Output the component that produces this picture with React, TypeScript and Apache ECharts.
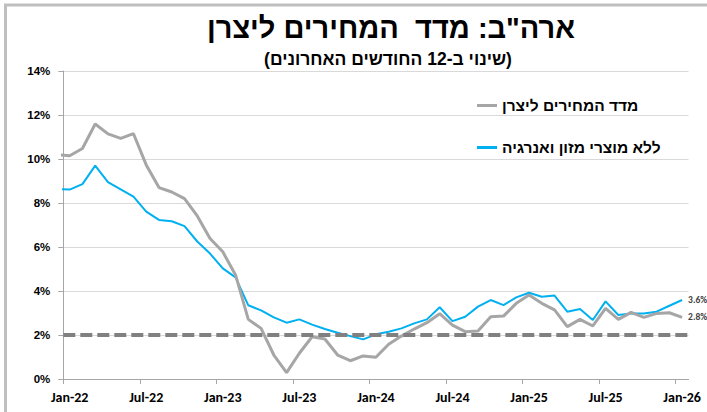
import React, { useEffect, useRef } from "react";
import * as echarts from "echarts";

const MONTHS = [
  "Dec-21",
  "Jan-22", "Feb-22", "Mar-22", "Apr-22", "May-22", "Jun-22", "Jul-22", "Aug-22", "Sep-22", "Oct-22", "Nov-22", "Dec-22",
  "Jan-23", "Feb-23", "Mar-23", "Apr-23", "May-23", "Jun-23", "Jul-23", "Aug-23", "Sep-23", "Oct-23", "Nov-23", "Dec-23",
  "Jan-24", "Feb-24", "Mar-24", "Apr-24", "May-24", "Jun-24", "Jul-24", "Aug-24", "Sep-24", "Oct-24", "Nov-24", "Dec-24",
  "Jan-25", "Feb-25", "Mar-25", "Apr-25", "May-25", "Jun-25", "Jul-25", "Aug-25", "Sep-25", "Oct-25", "Nov-25", "Dec-25",
  "Jan-26",
];

const PPI = [
  10.2,
  10.15, 10.48, 11.59, 11.14, 10.94, 11.15, 9.73, 8.7, 8.5, 8.2, 7.41, 6.39,
  5.78, 4.73, 2.71, 2.3, 1.09, 0.29, 1.17, 1.92, 1.82, 1.09, 0.83, 1.05,
  0.99, 1.58, 1.95, 2.27, 2.56, 2.97, 2.45, 2.15, 2.18, 2.83, 2.86, 3.44,
  3.82, 3.44, 3.14, 2.38, 2.71, 2.41, 3.21, 2.71, 3.03, 2.8, 2.98, 3.01,
  2.8,
];

const CORE = [
  8.64,
  8.61, 8.86, 9.7, 8.95, 8.62, 8.29, 7.61, 7.23, 7.17, 6.95, 6.25, 5.7,
  5.03, 4.62, 3.35, 3.12, 2.8, 2.56, 2.71, 2.47, 2.27, 2.1, 1.95, 1.8,
  2.03, 2.15, 2.3, 2.53, 2.71, 3.26, 2.63, 2.83, 3.29, 3.59, 3.36, 3.71,
  3.92, 3.74, 3.79, 3.06, 3.18, 2.68, 3.53, 2.91, 2.98, 2.98, 3.06, 3.33,
  3.59,
];

const TARGET = 2;
const Y_TICKS = [0, 2, 4, 6, 8, 10, 12, 14];

const TITLE = 'ארה"ב: מדד  המחירים ליצרן';
const SUBTITLE = "(שינוי ב-12 החודשים האחרונים)";
const NAME_PPI = "מדד המחירים ליצרן";
const NAME_CORE = "ללא מוצרי מזון ואנרגיה";

const GRAY = "#a6a6a6";
const BLUE = "#00b0f0";
const ARIAL = 'Arial, "Liberation Sans", sans-serif';
const CAL = 'Carlito, Calibri, Lato, "Open Sans", sans-serif';

export default function App() {
  const ref = useRef<HTMLDivElement>(null);

  useEffect(() => {
    if (!ref.current) return;
    const chart = echarts.init(ref.current, null, { renderer: "svg" });

    const toPoints = (vals: number[]) => vals.map((v, i) => [i - 0.5, v]);
    const tickIdx = MONTHS.map((_, i) => i).filter((i) => i >= 1 && (i - 1) % 6 === 0);

    const endLabel = (color: string) => ({
      show: true,
      formatter: (p: any) => p.value[1].toFixed(1) + "%",
      distance: 6,
      fontSize: 9.5,
      fontWeight: "bold",
      fontFamily: CAL,
      color,
    });

    chart.setOption({
      animation: false,
      backgroundColor: "#ffffff",
      graphic: [
        {
          type: "rect",
          shape: { x: 5.5, y: 5, width: 720, height: 430 },
          style: { fill: "none", stroke: "#bfbfbf", lineWidth: 3 },
          silent: true,
        },
        {
          type: "text",
          x: 391,
          y: 28,
          style: {
            text: TITLE,
            fontSize: 29,
            fontWeight: "bold",
            fontFamily: ARIAL,
            fill: "#000",
            textAlign: "center",
            textVerticalAlign: "middle",
          },
        },
        {
          type: "text",
          x: 388,
          y: 59,
          style: {
            text: SUBTITLE,
            fontSize: 17.5,
            fontWeight: "bold",
            fontFamily: ARIAL,
            fill: "#000",
            textAlign: "center",
            textVerticalAlign: "middle",
          },
        },
      ],
      legend: {
        orient: "vertical",
        left: 472,
        top: 91.5,
        itemGap: 24,
        itemWidth: 20,
        itemHeight: 3,
        icon: "rect",
        data: [NAME_PPI, NAME_CORE],
        textStyle: {
          fontSize: 15.5,
          fontWeight: "bold",
          fontFamily: ARIAL,
          color: "#000",
          lineHeight: 18,
        },
      },
      grid: { left: 63.3, right: 18.5, top: 71, bottom: 33, containLabel: false },
      xAxis: {
        type: "value",
        min: 0,
        max: MONTHS.length - 1,
        splitLine: { show: false },
        axisLine: { show: true, onZero: true, lineStyle: { color: GRAY, width: 1 } },
        axisTick: {
          show: true,
          length: 5,
          customValues: tickIdx.map((i) => i - 1),
          lineStyle: { color: GRAY },
        },
        axisLabel: {
          customValues: tickIdx.map((i) => i - 0.5),
          formatter: (v: number) => MONTHS[Math.round(v + 0.5)] ?? "",
          margin: 11,
          fontSize: 14,
          fontWeight: "bold",
          fontFamily: CAL,
          color: "#000",
        },
      },
      yAxis: {
        type: "value",
        min: Y_TICKS[0],
        max: Y_TICKS[Y_TICKS.length - 1],
        interval: 2,
        axisLine: { show: true, lineStyle: { color: GRAY, width: 1 } },
        axisTick: { show: true, length: 5, lineStyle: { color: GRAY } },
        splitLine: { show: true, lineStyle: { color: "#d9d9d9", width: 1 } },
        axisLabel: {
          formatter: "{value}%",
          margin: 13,
          fontSize: 11.5,
          fontWeight: "bold",
          fontFamily: ARIAL,
          color: "#000",
        },
      },
      series: [
        {
          name: NAME_PPI,
          type: "line",
          data: toPoints(PPI),
          showSymbol: false,
          symbol: "none",
          clip: true,
          lineStyle: { color: GRAY, width: 3 },
          itemStyle: { color: GRAY },
          endLabel: endLabel("#404040"),
          z: 3,
          markLine: {
            silent: true,
            symbol: "none",
            label: { show: false },
            lineStyle: { color: "#808080", width: 4, type: [12, 5] },
            data: [{ yAxis: TARGET }],
            z: 4,
          },
        },
        {
          name: NAME_CORE,
          type: "line",
          data: toPoints(CORE),
          showSymbol: false,
          symbol: "none",
          clip: true,
          lineStyle: { color: BLUE, width: 2 },
          itemStyle: { color: BLUE },
          endLabel: endLabel("#404040"),
          z: 2,
        },
      ],
    });

    return () => chart.dispose();
  }, []);

  return (
    <div
      ref={ref}
      style={{ position: "fixed", left: 0, top: 0, width: 707, height: 412 }}
    />
  );
}
